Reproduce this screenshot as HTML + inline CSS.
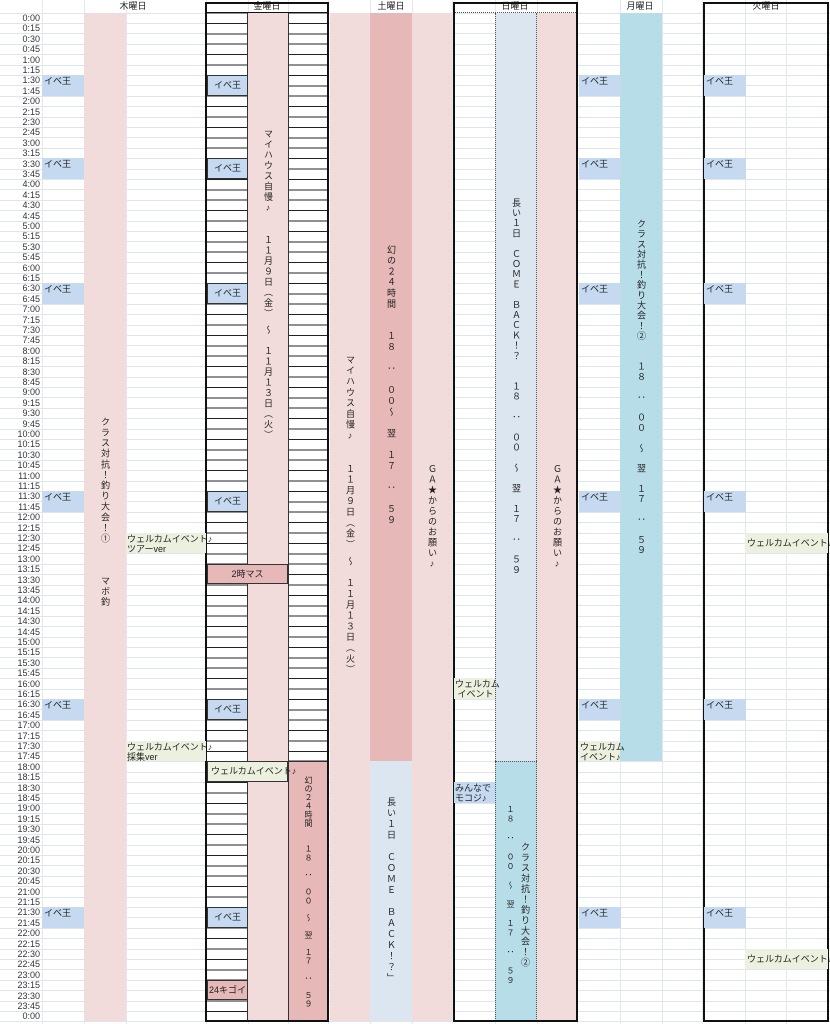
<!DOCTYPE html><html><head><meta charset="utf-8"><style>
body{margin:0;width:830px;height:1024px;overflow:hidden;background:#fff;position:relative;font-family:"Liberation Sans","Noto Sans CJK JP",sans-serif;color:#222}
.a{position:absolute;box-sizing:border-box}
.t{font-size:9px;line-height:10px;white-space:nowrap}
.v{writing-mode:vertical-rl;text-orientation:upright;font-size:9px;letter-spacing:1.2px;white-space:nowrap;text-align:center}
</style></head><body>
<div id="g"></div>
<script>
const R=10.4,Y0=12.5;const y=r=>Y0+r*R;
let h='';
function box(x,r1,w,r2,bg,extra,txt,cls){h+=`<div class="a ${cls||''}" style="left:${x}px;top:${y(r1)}px;width:${w}px;height:${y(r2)-y(r1)}px;background:${bg};${extra||''}">${txt||''}</div>`}
for(let r=0;r<=97;r++){h+=`<div class="a" style="left:0;top:${y(r)}px;width:830px;height:1px;background:#dfe5ec"></div>`;}
[42,84,126,206,248,288,328,370,412,452,495,537,577,620,662,702,745,786].forEach(x=>h+=`<div class="a" style="left:${x}px;top:0;width:1px;height:1024px;background:#e3e8ee"></div>`);
for(let r=0;r<97;r++){let m=(r%96)*15,hh=Math.floor(m/60),mm=m%60;h+=`<div class="a t" style="left:0;width:40px;text-align:right;top:${y(r)+0.5}px;color:#333">${hh}:${mm==0?'00':mm}</div>`;}
[['木曜日',133],['金曜日',267],['土曜日',391],['日曜日',515],['月曜日',640],['火曜日',766]].forEach(([s,c])=>h+=`<div class="a t" style="left:${c-30}px;width:60px;text-align:center;top:1px">${s}</div>`);
box(84,0,42,97,'#f2dcdb');
box(248,0,40,97,'#f2dcdb');
box(330,0,40,97,'#f2dcdb');box(370,0,42,72,'#e6b8b7');box(370,72,42,97,'#dce6f1');box(412,0,40,97,'#f2dcdb');
box(495,0,42,72,'#dce6f1','border-left:1px dotted #555;border-right:1px dotted #555');box(495,72,42,97,'#b7dee8','border:1px dotted #555;border-bottom:none');box(537,0,40,97,'#f2dcdb');
box(620,0,42,72,'#b7dee8');
box(288,72,40,97,'#e6b8b7','border:1px solid #333');
const lines='background-image:repeating-linear-gradient(to bottom,#222 0,#222 1px,transparent 1px,transparent 10.4px);background-position:0 -0.5px';
box(207,0,41,97,'#fff',lines+';border-right:1px solid #333');
box(288,0,40,72,'#fff',lines+';border-left:1px solid #333');
[[205,329],[453,578],[703,829]].forEach(([a,b])=>{h+=`<div class="a" style="left:${a}px;top:2px;width:${b-a}px;height:1020px;border:2px solid #111"></div>`});
h+=`<div class="a" style="left:205px;top:12px;width:124px;height:1px;background:#111"></div>`;
h+=`<div class="a" style="left:455px;top:12px;width:121px;height:0;border-top:1px dotted #555"></div>`;
[6,14,26,46,66,86].forEach(r=>{
 [42,579,704].forEach(x=>box(x,r,42,r+2,'#c5d9f1','','<span class="t" style="position:absolute;left:2px;top:1px">イベ王</span>'));
 box(207,r,41,r+2,'#c5d9f1','border:1px solid #333;display:flex;align-items:center;justify-content:center','<span class="t">イベ王</span>');
});
const gr='#ebf1de';
box(126,50,80,52,gr,'padding:1px 1px','<div class="t">ウェルカムイベント♪</div><div class="t">ツアーver</div>');
box(126,70,80,72,gr,'padding:1px 1px','<div class="t">ウェルカムイベント♪</div><div class="t">採集ver</div>');
box(745,50,83,52,gr,'padding:5px 2px','<div class="t">ウェルカムイベント♪</div>');
box(745,90,83,92,gr,'padding:5px 2px','<div class="t">ウェルカムイベント♪</div>');
box(454,64,41,66,gr,'padding:1px 1px','<div class="t">ウェルカム</div><div class="t">&nbsp;イベント</div>');
box(579,70,41,72,gr,'padding:1px 1px','<div class="t">ウェルカム</div><div class="t">イベント♪</div>');
box(207,72,81,74,gr,'border:1px solid #333;padding:4px 3px','<div class="t">ウェルカムイベント♪</div>');
box(207,53,81,55,'#e6b8b7','border:1px solid #333;display:flex;align-items:center;justify-content:center','<span class="t">2時マス</span>');
box(207,93,41,95,'#e6b8b7','border:1px solid #333;display:flex;align-items:center;justify-content:center','<span class="t">24キゴイ</span>');
box(454,74,41,76,'#c5d9f1','padding:1px 1px','<div class="t">みんなで</div><div class="t">モコジ♪</div>');
function v(x,w,t1,t2,s,ls,fs){h+=`<div class="a v" style="left:${x}px;width:${w}px;line-height:${w}px;top:${t1}px;height:${t2-t1}px;letter-spacing:${ls}px;${fs?'font-size:'+fs+'px':''}">${s}</div>`}
v(84,42,415,610,'クラス対抗！釣り大会！①　　　マボ釣',1.6);
v(248,40,122,448,'マイハウス自慢♪　　１１月９日（金）　～　１１月１３日（火）',1.5);
v(330,40,345,685,'マイハウス自慢♪　　１１月９日（金）　～　１１月１３日（火）',1.8);
v(370,42,235,535,'幻の２４時間　　１８　：　００～　翌　１７　：　５９',1.8);
v(288,40,772,1012,'幻の２４時間　　１８　：　００　～　翌　１７　：　５９',0.6,8);
v(412,40,458,575,'ＧＡ★からのお願い♪',1.5);
v(537,40,458,575,'ＧＡ★からのお願い♪',1.5);
v(370,42,795,985,'長い１日　ＣＯＭＥ　ＢＡＣＫ！？」',2);
v(495,42,188,585,'長い１日　ＣＯＭＥ　ＢＡＣＫ！？　　１８　：　００　～　翌　１７　：　５９',1.2);
v(620,42,205,570,'クラス対抗！釣り大会！②　　１８　：　００　～　翌　１７　：　５９',1.2);
v(502,16,790,1000,'１８　：　００　～　翌　１７　：　５９',1.5,8);
v(517,16,820,990,'クラス対抗！釣り大会！②',1.5);
document.getElementById('g').innerHTML=h;
</script>
</body></html>
